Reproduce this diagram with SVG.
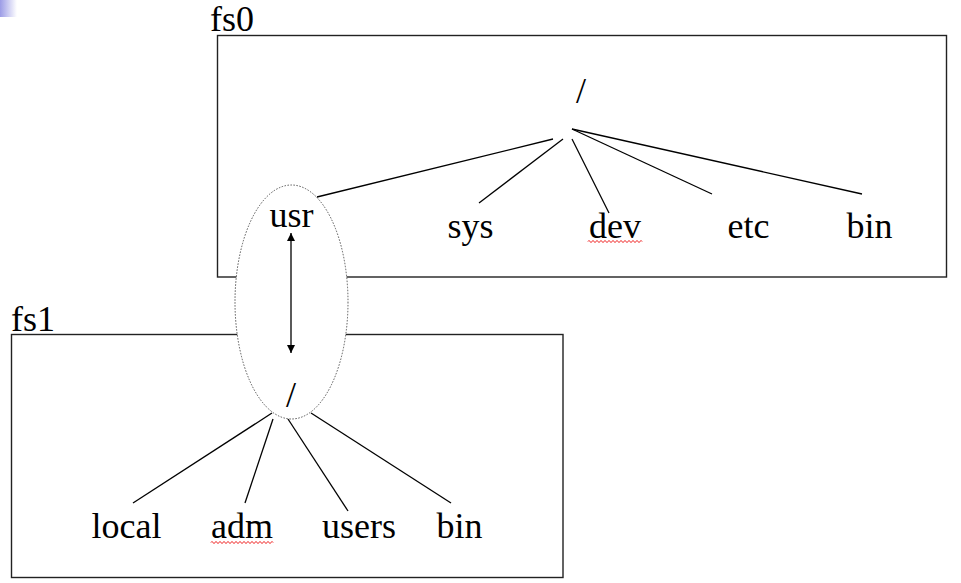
<svg xmlns="http://www.w3.org/2000/svg" width="961" height="583" viewBox="0 0 961 583">
<style>
.t{font-family:"Liberation Serif","Times New Roman",serif;font-size:36px;fill:#000}
.m{text-anchor:middle}
.box{fill:none;stroke:#222;stroke-width:1.4}
.ln{stroke:#000;stroke-width:1.3;fill:none}
.sq{stroke:#e00;stroke-width:1;fill:none}
</style>
<defs>
<linearGradient id="g" x1="0" y1="0" x2="1" y2="0">
<stop offset="0" stop-color="#9c9ce6"/>
<stop offset="1" stop-color="#fff"/>
</linearGradient>
<marker id="ah" viewBox="0 0 10 10" refX="10" refY="5" markerWidth="8" markerHeight="8" markerUnits="userSpaceOnUse" orient="auto-start-reverse">
<path d="M0,0 L10,5 L0,10 z" fill="#000"/>
</marker>
</defs>
<rect x="0" y="0" width="17" height="17" fill="url(#g)"/>
<g id="fs0">
<rect class="box" x="217.5" y="35.5" width="729" height="241.5"/>
<text class="t" x="210" y="31">fs0</text>
</g>
<g id="fs1">
<rect class="box" x="11.5" y="334.5" width="551.5" height="243"/>
<text class="t" x="11" y="331">fs1</text>
</g>
<g id="mount">
<ellipse cx="291.5" cy="302" rx="56.5" ry="117" fill="#fff" stroke="#555" stroke-width="1" stroke-dasharray="1.5,1.5"/>
</g>
<g id="connectors">
<line class="ln" x1="317" y1="197" x2="553" y2="139"/>
<line class="ln" x1="479" y1="203" x2="563" y2="139"/>
<line class="ln" x1="572" y1="139" x2="609" y2="213"/>
<line class="ln" x1="572" y1="129" x2="712" y2="194"/>
<line class="ln" x1="572" y1="129" x2="862" y2="194"/>
<line class="ln" x1="272" y1="413" x2="133" y2="503"/>
<line class="ln" x1="273" y1="419" x2="245" y2="503"/>
<line class="ln" x1="288" y1="419" x2="348" y2="511"/>
<line class="ln" x1="311" y1="413" x2="451" y2="503"/>
<line class="ln" x1="291" y1="233" x2="291" y2="353" marker-start="url(#ah)" marker-end="url(#ah)"/>
</g>
<g id="root0"><text class="t m" x="581" y="103">/</text></g>
<g id="usr"><text class="t m" x="291.5" y="227">usr</text></g>
<g id="sys"><text class="t m" x="470.5" y="238">sys</text></g>
<g id="dev"><text class="t m" x="615" y="238">dev</text>
<path class="sq" d="M588,241.5 q1,-2 2,0 t2,0 t2,0 t2,0 t2,0 t2,0 t2,0 t2,0 t2,0 t2,0 t2,0 t2,0 t2,0 t2,0 t2,0 t2,0 t2,0 t2,0 t2,0 t2,0 t2,0 t2,0 t2,0 t2,0 t2,0 t2,0 t2,0"/>
</g>
<g id="etc"><text class="t m" x="748.5" y="238">etc</text></g>
<g id="bin0"><text class="t m" x="869.5" y="238">bin</text></g>
<g id="root1"><text class="t m" x="291" y="407">/</text></g>
<g id="local"><text class="t m" x="126.5" y="538">local</text></g>
<g id="adm"><text class="t m" x="242" y="538">adm</text>
<path class="sq" d="M211,542.5 q1,-2 2,0 t2,0 t2,0 t2,0 t2,0 t2,0 t2,0 t2,0 t2,0 t2,0 t2,0 t2,0 t2,0 t2,0 t2,0 t2,0 t2,0 t2,0 t2,0 t2,0 t2,0 t2,0 t2,0 t2,0 t2,0 t2,0 t2,0 t2,0 t2,0 t2,0 t2,0"/>
</g>
<g id="users"><text class="t m" x="359" y="538">users</text></g>
<g id="bin1"><text class="t m" x="459.5" y="538">bin</text></g>
</svg>
